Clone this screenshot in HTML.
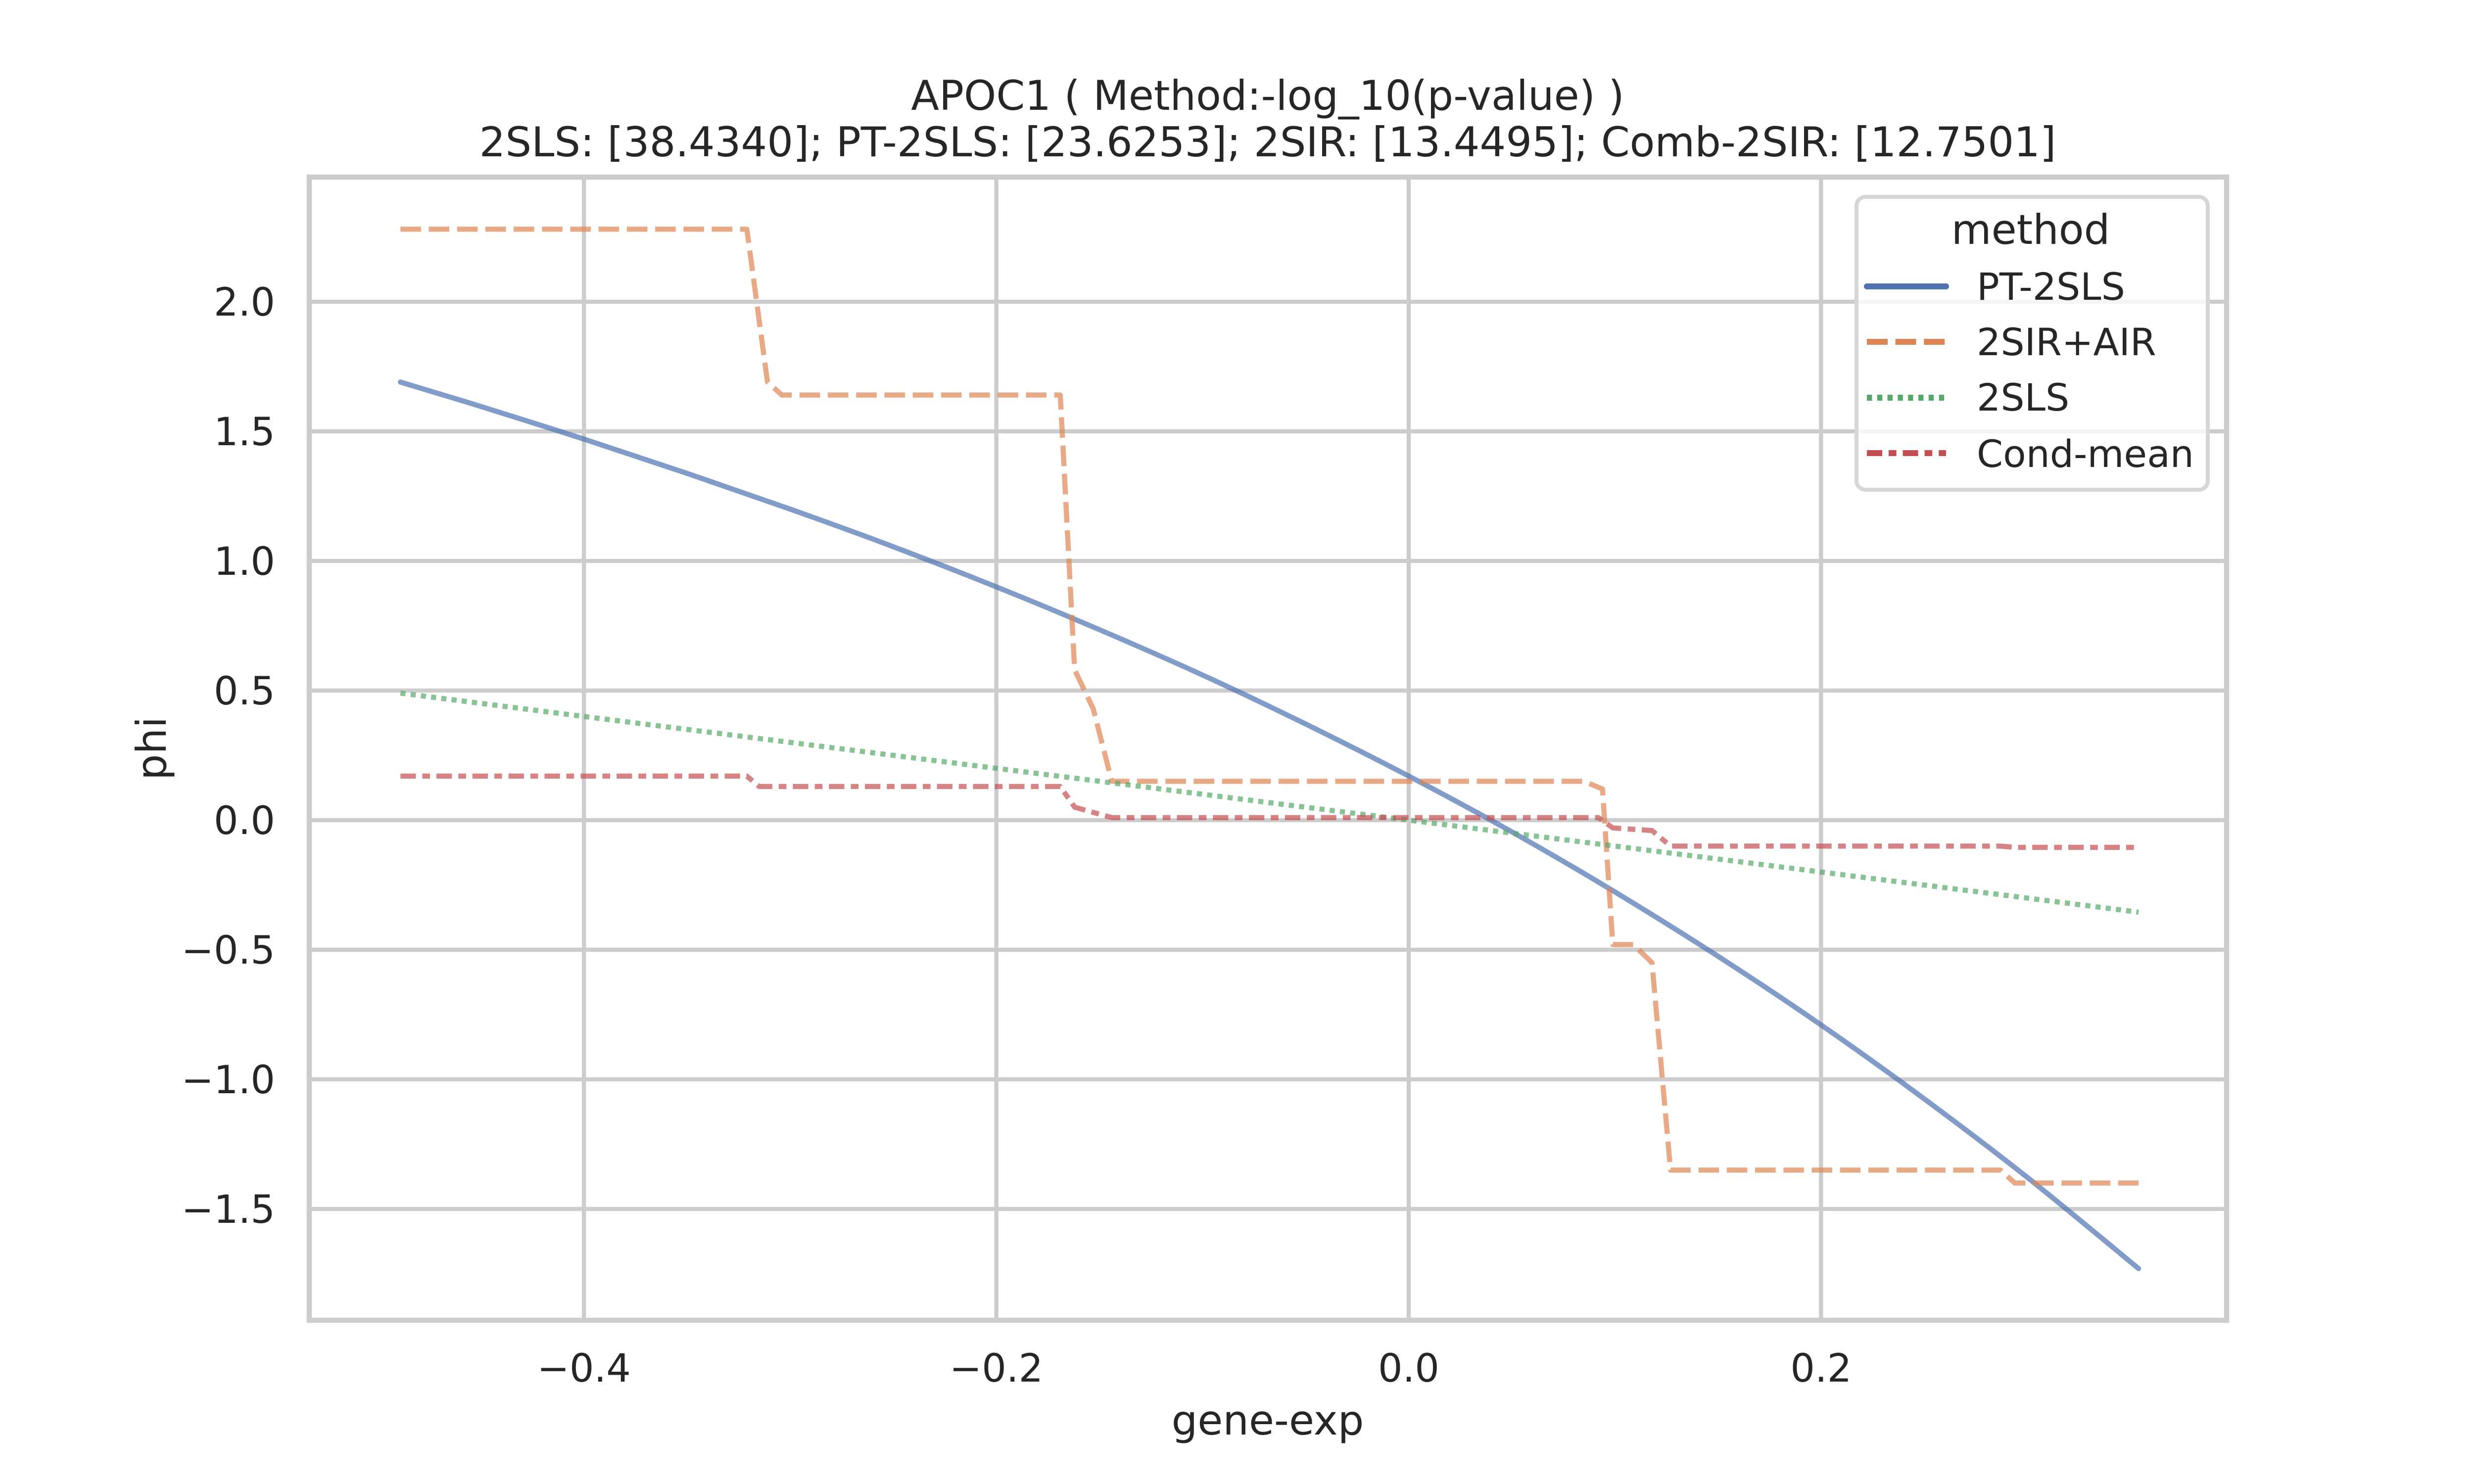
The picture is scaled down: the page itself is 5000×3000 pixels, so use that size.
<!DOCTYPE html>
<html><head><meta charset="utf-8">
<style>
html,body{margin:0;padding:0;background:#fff;}
svg{display:block;}
text{font-family:"DejaVu Sans","Liberation Sans",sans-serif;fill:#262626;}
</style></head>
<body>
<svg id="chart" xmlns="http://www.w3.org/2000/svg" width="5000" height="3000" viewBox="0 0 5000 3000">
<rect x="0" y="0" width="5000" height="3000" fill="#fff"/>
<g id="grid"></g>
<g id="series"></g>
<rect x="625" y="358" width="3875" height="2311" fill="none" stroke="#cccccc" stroke-width="10.4"/>
<g id="ticks"></g>
<text x="2562" y="222" font-size="83" text-anchor="middle">APOC1 ( Method:-log_10(p-value) )</text>
<text x="2562" y="316" font-size="83" text-anchor="middle">2SLS: [38.4340]; PT-2SLS: [23.6253]; 2SIR: [13.4495]; Comb-2SIR: [12.7501]</text>
<text x="2562" y="2900" font-size="83" text-anchor="middle">gene-exp</text>
<text transform="translate(335,1513) rotate(-90)" font-size="83" text-anchor="middle">phi</text>
<g>
<rect x="3752" y="398" width="710" height="592" rx="18" fill="#fff" fill-opacity="0.8" stroke="#d6d6d6" stroke-width="8"/>
<text x="4104" y="493" font-size="83" text-anchor="middle">method</text>
<g>
<line x1="3773" y1="579" x2="3933" y2="579" stroke="#4c72b0" stroke-width="12" stroke-linecap="round"/>
<text x="3995" y="606" font-size="76">PT-2SLS</text></g>
<g>
<line x1="3773" y1="691" x2="3933" y2="691" stroke="#dd8452" stroke-width="12" stroke-dasharray="42,15.6"/>
<text x="3995" y="718" font-size="76">2SIR+AIR</text></g>
<g>
<line x1="3773" y1="804" x2="3933" y2="804" stroke="#55a868" stroke-width="12" stroke-dasharray="10.4,10.4"/>
<text x="3995" y="830" font-size="76">2SLS</text></g>
<g>
<line x1="3773" y1="916" x2="3933" y2="916" stroke="#c44e52" stroke-width="12" stroke-dasharray="31,13,15.6,13"/>
<text x="3995" y="944" font-size="76">Cond-mean</text></g>
</g>
</svg>
<script>
const xTicks = [-0.4, -0.2, 0.0, 0.2];
const xTickLabels = ["\u22120.4", "\u22120.2", "0.0", "0.2"];
const yTicks = [-1.5, -1.0, -0.5, 0.0, 0.5, 1.0, 1.5, 2.0];
const yTickLabels = ["\u22121.5", "\u22121.0", "\u22120.5", "0.0", "0.5", "1.0", "1.5", "2.0"];

const ptX = [-0.489, -0.45, -0.4, -0.35, -0.3, -0.25, -0.2, -0.15, -0.1, -0.05, 0.0, 0.05, 0.1, 0.15, 0.2, 0.25, 0.3, 0.354];
const ptY = [1.69, 1.596, 1.47, 1.338, 1.20, 1.055, 0.90, 0.735, 0.56, 0.371, 0.17, -0.045, -0.277, -0.525, -0.79, -1.075, -1.378, -1.73];

const sirX = [-0.489, -0.321, -0.311, -0.304, -0.169, -0.162, -0.153, -0.144, 0.085, 0.094, 0.099, 0.109, 0.118, 0.127, 0.287, 0.294, 0.354];
const sirY = [2.28, 2.28, 1.69, 1.64, 1.64, 0.58, 0.43, 0.15, 0.15, 0.12, -0.48, -0.48, -0.55, -1.35, -1.35, -1.40, -1.40];

const slsX = [-0.489, -0.4, -0.2, 0.0, 0.2, 0.354];
const slsY = [0.49, 0.40, 0.20, 0.0, -0.20, -0.355];

const cmX = [-0.489, -0.321, -0.315, -0.169, -0.162, -0.144, 0.092, 0.099, 0.118, 0.127, 0.287, 0.294, 0.354];
const cmY = [0.17, 0.17, 0.13, 0.13, 0.05, 0.01, 0.01, -0.03, -0.04, -0.10, -0.10, -0.105, -0.105];

const NS = "http://www.w3.org/2000/svg";
function sx(v){ return 2847 + 4167 * v; }
function sy(v){ return 1658 - 524 * v; }

const grid = document.getElementById("grid");
const ticks = document.getElementById("ticks");
xTicks.forEach((t, i) => {
  const l = document.createElementNS(NS, "line");
  
  
  l.setAttribute("x1", sx(t)); l.setAttribute("x2", sx(t));
  l.setAttribute("y1", 358); l.setAttribute("y2", 2669);
  l.setAttribute("stroke", "#cccccc"); l.setAttribute("stroke-width", "8.3");
  grid.appendChild(l);
  const tx = document.createElementNS(NS, "text");
  
  
  tx.setAttribute("x", sx(t)); tx.setAttribute("y", 2793);
  tx.setAttribute("font-size", "78"); tx.setAttribute("text-anchor", "middle");
  tx.textContent = xTickLabels[i];
  ticks.appendChild(tx);
});
yTicks.forEach((t, i) => {
  const l = document.createElementNS(NS, "line");
  
  
  l.setAttribute("x1", 625); l.setAttribute("x2", 4500);
  l.setAttribute("y1", sy(t)); l.setAttribute("y2", sy(t));
  l.setAttribute("stroke", "#cccccc"); l.setAttribute("stroke-width", "8.3");
  grid.appendChild(l);
  const tx = document.createElementNS(NS, "text");
  
  
  tx.setAttribute("x", 556); tx.setAttribute("y", sy(t) + 28);
  tx.setAttribute("font-size", "78"); tx.setAttribute("text-anchor", "end");
  tx.textContent = yTickLabels[i];
  ticks.appendChild(tx);
});

const series = document.getElementById("series");
function styleLine(p, color, dash){
  p.setAttribute("fill", "none");
  p.setAttribute("stroke", color);
  p.setAttribute("stroke-opacity", "0.7");
  p.setAttribute("stroke-width", "10.4");
  p.setAttribute("stroke-linejoin", "round");
  if (dash) p.setAttribute("stroke-dasharray", dash); else p.setAttribute("stroke-linecap", "round");
}
function drawLine(xs, ys, color, dash, name){
  const p = document.createElementNS(NS, "polyline");
  
  
  p.setAttribute("points", xs.map((x, i) => sx(x).toFixed(1) + "," + sy(ys[i]).toFixed(1)).join(" "));
  styleLine(p, color, dash);
  series.appendChild(p);
}
function drawSmooth(xs, ys, color, name){
  const P = xs.map((x, i) => [sx(x), sy(ys[i])]);
  let d = "M" + P[0][0].toFixed(1) + "," + P[0][1].toFixed(1);
  for (let i = 0; i < P.length - 1; i++) {
    const p0 = P[Math.max(0, i - 1)], p1 = P[i], p2 = P[i + 1], p3 = P[Math.min(P.length - 1, i + 2)];
    const c1 = [p1[0] + (p2[0] - p0[0]) / 6, p1[1] + (p2[1] - p0[1]) / 6];
    const c2 = [p2[0] - (p3[0] - p1[0]) / 6, p2[1] - (p3[1] - p1[1]) / 6];
    d += " C" + c1[0].toFixed(1) + "," + c1[1].toFixed(1) + " " + c2[0].toFixed(1) + "," + c2[1].toFixed(1) + " " + p2[0].toFixed(1) + "," + p2[1].toFixed(1);
  }
  const p = document.createElementNS(NS, "path");
  
  
  p.setAttribute("d", d);
  styleLine(p, color, null);
  series.appendChild(p);
}
drawSmooth(ptX, ptY, "#4c72b0", "pt-2sls-line");
drawLine(sirX, sirY, "#dd8452", "41.6,15.6", "2sir-air-line");
drawLine(slsX, slsY, "#55a868", "10.4,10.4", "2sls-line");
drawLine(cmX, cmY, "#c44e52", "31.2,13,15.6,13", "cond-mean-line");
</script>
</body></html>
